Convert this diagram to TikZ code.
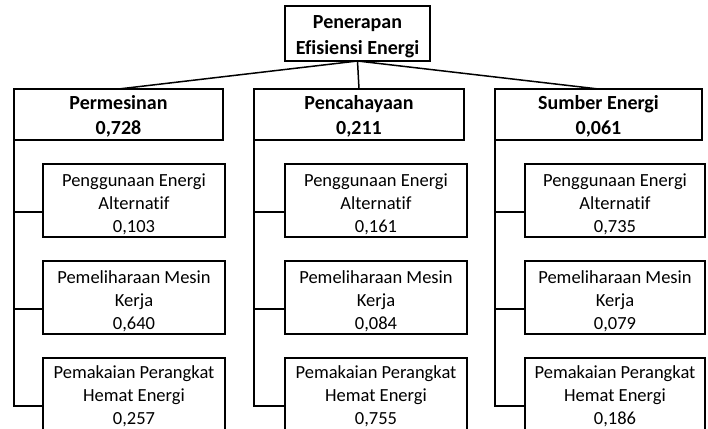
\documentclass[tikz,border=0pt]{standalone}
\usepackage{fontspec}
\setmainfont{Carlito}[Ligatures={NoCommon}]
\begin{document}
\begin{tikzpicture}[x=1pt,y=-1pt,
  box/.style={draw, line width=1.5pt, inner sep=0pt, outer sep=0pt, anchor=north west},
  toptext/.style={align=center, inner sep=0pt, font=\bfseries\fontsize{20}{25.5}\selectfont},
  subtext/.style={align=center, inner sep=0pt, font=\fontsize{18.5}{23}\selectfont},
  subbox/.style={box, minimum width=182pt, minimum height=73pt},
  lnk/.style={line width=1.5pt}]
\useasboundingbox (0,0) rectangle (708,428);
\clip (0,0) rectangle (708,428);
% level 1 and 2 boxes
\node[box, minimum width=145pt, minimum height=55pt] (root) at (285,6) {};
\node[box, minimum width=209pt, minimum height=51pt] (a) at (14,89) {};
\node[box, minimum width=210pt, minimum height=51pt] (b) at (254,89) {};
\node[box, minimum width=207pt, minimum height=51pt] (c) at (495,89) {};
\node[toptext] (roott) at ([yshift=-3pt]root.center) {Penerapan\\Efisiensi Energi};
\node[toptext] (at) at ([yshift=-2pt]a.center) {Permesinan\\0,728};
\node[toptext] (bt) at ([yshift=-2pt]b.center) {Pencahayaan\\0,211};
\node[toptext] (ct) at ([yshift=-2pt]c.center) {Sumber Energi\\0,061};
\draw[lnk] (root.south) -- (a.north);
\draw[lnk] (root.south) -- (b.north);
\draw[lnk] (root.south) -- (c.north);
% level 3 boxes
\node[subbox] (a1) at (43,164) {};
\node[subbox] (a2) at (43,261) {};
\node[subbox] (a3) at (43,358) {};
\node[subbox] (b1) at (285,164) {};
\node[subbox] (b2) at (285,261) {};
\node[subbox] (b3) at (285,358) {};
\node[subbox, minimum width=180pt] (c1) at (525,164) {};
\node[subbox, minimum width=180pt] (c2) at (525,261) {};
\node[subbox, minimum width=180pt] (c3) at (525,358) {};
\node[subtext] (a1t) at ([yshift=-4pt]a1.center) {Penggunaan Energi\\Alternatif\\0,103};
\node[subtext] (a2t) at ([yshift=-4pt]a2.center) {Pemeliharaan Mesin\\Kerja\\0,640};
\node[subtext] (a3t) at ([yshift=-2pt]a3.center) {Pemakaian Perangkat\\Hemat Energi\\0,257};
\node[subtext] (b1t) at ([yshift=-4pt]b1.center) {Penggunaan Energi\\Alternatif\\0,161};
\node[subtext] (b2t) at ([yshift=-4pt]b2.center) {Pemeliharaan Mesin\\Kerja\\0,084};
\node[subtext] (b3t) at ([yshift=-2pt]b3.center) {Pemakaian Perangkat\\Hemat Energi\\0,755};
\node[subtext] (c1t) at ([yshift=-4pt]c1.center) {Penggunaan Energi\\Alternatif\\0,735};
\node[subtext] (c2t) at ([yshift=-4pt]c2.center) {Pemeliharaan Mesin\\Kerja\\0,079};
\node[subtext] (c3t) at ([yshift=-2pt]c3.center) {Pemakaian Perangkat\\Hemat Energi\\0,186};
\foreach \p in {a,b,c}{
  \foreach \i in {1,2,3}{
    \coordinate (\p\i j) at ([yshift=-48pt]\p\i.north west);
  }
  \draw[lnk] (\p.south west) |- (\p3j);
  \draw[lnk] (\p.south west |- \p1j) -- (\p1j);
  \draw[lnk] (\p.south west |- \p2j) -- (\p2j);
}
\end{tikzpicture}
\end{document}
